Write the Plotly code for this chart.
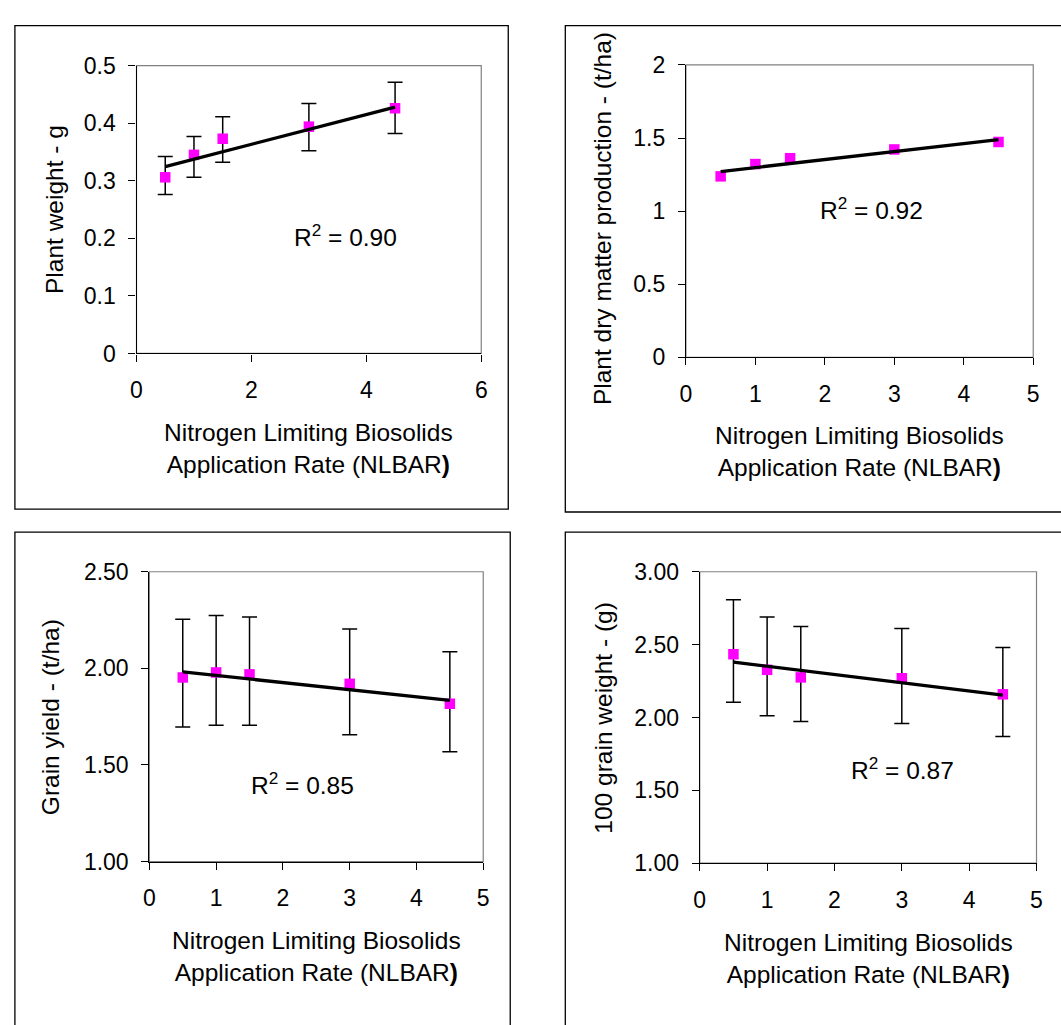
import plotly.graph_objects as go

W, H = 1061, 1025

# ---------------- data ----------------
nlbar = [0.5, 1.0, 1.5, 3.0, 4.5]
trend_x = [0.5, 4.5]

plant_weight = [0.306, 0.345, 0.373, 0.394, 0.426]
plant_weight_hi = [0.342, 0.377, 0.411, 0.434, 0.471]
plant_weight_lo = [0.276, 0.306, 0.332, 0.352, 0.382]
plant_weight_trend = [0.3245, 0.428]

dry_matter = [1.238, 1.322, 1.362, 1.422, 1.473]
dry_matter_trend = [1.271, 1.489]

grain_yield = [1.953, 1.979, 1.969, 1.920, 1.817]
grain_yield_hi = [2.254, 2.273, 2.266, 2.204, 2.086]
grain_yield_lo = [1.696, 1.706, 1.706, 1.656, 1.568]
grain_yield_trend = [1.982, 1.834]

grain_weight = [2.434, 2.327, 2.275, 2.269, 2.159]
grain_weight_hi = [2.808, 2.690, 2.625, 2.610, 2.480]
grain_weight_lo = [2.104, 2.012, 1.972, 1.959, 1.870]
grain_weight_trend = [2.380, 2.153]

y_titles = ["Plant weight - g", "Plant dry matter production - (t/ha)",
            "Grain yield - (t/ha)", "100 grain weight - (g)"]
r2_labels = ["0.90", "0.92", "0.85", "0.87"]
x_title = "Nitrogen Limiting Biosolids<br>Application Rate (NLBAR<b>)</b>"

FONT = "Liberation Sans, Arial, sans-serif"
MAG = "#FF00FF"
TICK_SIZE = 23
TEXT_SIZE = 24.5


def px(x):
    return x / W


def py(y):
    return 1 - y / H


fig = go.Figure()

panels = [
    dict(y=plant_weight, hi=plant_weight_hi, lo=plant_weight_lo, trend=plant_weight_trend,
         plot=(132, 480.7, 54, 349.3), xr=[0, 6], xd=2, yr=[0, 0.5], yd=0.1, yfmt="",
         ytitle_x=49, ytitle_dy=0, xt_y=(431, 463), r2=(3.63, 0.205),
         box=(9, 508, 13, 509)),
    dict(y=dry_matter, hi=None, lo=None, trend=dry_matter_trend,
         plot=(687.7, 1039, 53.3, 353.3), xr=[0, 5], xd=1, yr=[0, 2], yd=0.5, yfmt="",
         ytitle_x=604, ytitle_dy=8, xt_y=(433, 467), r2=(2.67, 1.02),
         box=(565.7, 1075, 13, 512)),
    dict(y=grain_yield, hi=grain_yield_hi, lo=grain_yield_lo, trend=grain_yield_trend,
         plot=(145, 482.7, 573.3, 870.7), xr=[0, 5], xd=1, yr=[1, 2.5], yd=0.5, yfmt=".2f",
         ytitle_x=45, ytitle_dy=0, xt_y=(952, 985), r2=(2.30, 1.404),
         box=(9, 510, 532.7, 1040)),
    dict(y=grain_weight, hi=grain_weight_hi, lo=grain_weight_lo, trend=grain_weight_trend,
         plot=(701.7, 1042.3, 573.3, 872.3), xr=[0, 5], xd=1, yr=[1, 3], yd=0.5, yfmt=".2f",
         ytitle_x=604, ytitle_dy=0, xt_y=(953, 987), r2=(3.01, 1.651),
         box=(565.7, 1075, 532.7, 1040)),
]

layout_axes = {}
shapes = []
annotations = []

for i, p in enumerate(panels):
    n = i + 1
    xa = "x" if n == 1 else f"x{n}"
    ya = "y" if n == 1 else f"y{n}"
    x0, x1, y0, y1 = p["plot"]

    if p["hi"] is not None:
        err = dict(type="data", symmetric=False,
                   array=[h - v for h, v in zip(p["hi"], p["y"])],
                   arrayminus=[v - l for l, v in zip(p["lo"], p["y"])],
                   color="black", thickness=1.5, width=7.5)
    else:
        err = None

    fig.add_trace(go.Scatter(x=nlbar, y=p["y"], mode="markers", xaxis=xa, yaxis=ya,
                             marker=dict(symbol="square", size=10.5, color=MAG),
                             error_y=err, showlegend=False, cliponaxis=False))
    fig.add_trace(go.Scatter(x=trend_x, y=p["trend"], mode="lines", xaxis=xa, yaxis=ya,
                             line=dict(color="black", width=3.3), showlegend=False,
                             cliponaxis=False))

    key_x = "xaxis" if n == 1 else f"xaxis{n}"
    key_y = "yaxis" if n == 1 else f"yaxis{n}"
    layout_axes[key_x] = dict(domain=[px(x0), px(x1)], range=p["xr"], dtick=p["xd"], tick0=0,
                              anchor=ya, showgrid=False, zeroline=False, showline=True,
                              linecolor="black", linewidth=1.2, ticks="outside", ticklen=7,
                              tickcolor="black", tickwidth=1, fixedrange=True,
                              ticklabelstandoff=9,
                              tickfont=dict(family=FONT, size=TICK_SIZE, color="black"))
    layout_axes[key_y] = dict(domain=[py(y1), py(y0)], range=p["yr"], dtick=p["yd"],
                              tick0=0, anchor=xa, showgrid=False, zeroline=False,
                              showline=True, linecolor="black", linewidth=1.2,
                              ticks="outside", ticklen=7, tickcolor="black", tickwidth=1,
                              tickformat=p["yfmt"], fixedrange=True,
                              ticklabelstandoff=8,
                              tickfont=dict(family=FONT, size=TICK_SIZE, color="black"))

    # plot-area border (grey top / right)
    shapes.append(dict(type="rect", xref=f"{xa} domain", yref=f"{ya} domain",
                       x0=0, x1=1, y0=0, y1=1, line=dict(color="#808080", width=1.2),
                       layer="below"))
    # outer chart box
    bx0, bx1, by0, by1 = p["box"]
    shapes.append(dict(type="rect", xref="paper", yref="paper",
                       x0=px(bx0), x1=px(bx1), y0=py(by1), y1=py(by0),
                       line=dict(color="black", width=1.3), layer="below"))

    # axis titles
    annotations.append(dict(text=y_titles[i], xref="paper", yref="paper",
                            x=px(p["ytitle_x"]), y=py((y0 + y1) / 2 + p["ytitle_dy"]),
                            textangle=-90, showarrow=False, xanchor="center", yanchor="middle",
                            font=dict(family=FONT, size=TEXT_SIZE, color="black")))
    annotations.append(dict(text=x_title, xref="paper", yref="paper",
                            x=px((x0 + x1) / 2), y=py((p["xt_y"][0] + p["xt_y"][1]) / 2),
                            showarrow=False, xanchor="center", yanchor="middle", align="center",
                            font=dict(family=FONT, size=TEXT_SIZE, color="black")))
    # R^2 label
    annotations.append(dict(text=f"R<sup>2</sup> = {r2_labels[i]}", xref=xa, yref=ya,
                            x=p["r2"][0], y=p["r2"][1], showarrow=False,
                            xanchor="center", yanchor="middle",
                            font=dict(family=FONT, size=TEXT_SIZE, color="black")))

fig.update_layout(width=W, height=H, margin=dict(l=0, r=0, t=0, b=0),
                  paper_bgcolor="white", plot_bgcolor="white",
                  shapes=shapes, annotations=annotations, showlegend=False,
                  **layout_axes)

fig.write_html("out.html", config={"displayModeBar": False})
